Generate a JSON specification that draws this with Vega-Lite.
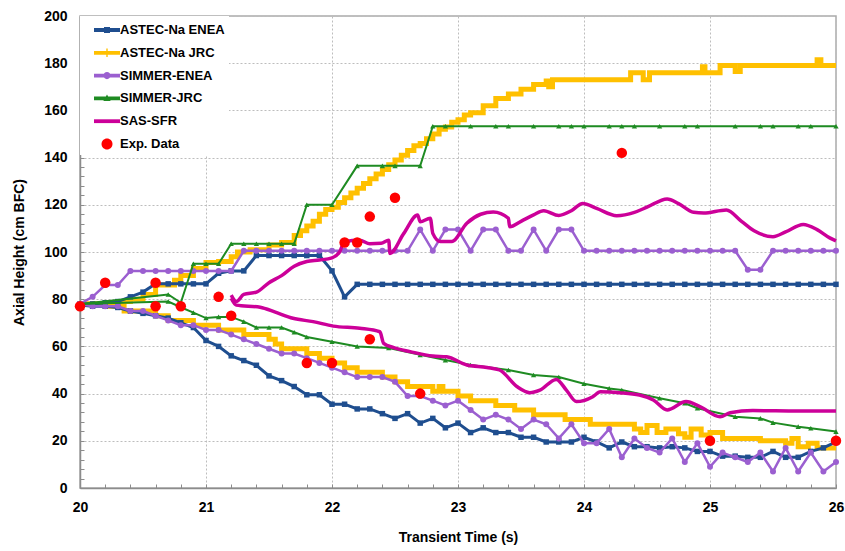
{
"$schema": "https://vega.github.io/schema/vega-lite/v6.json",
"width": 756, "height": 472,
"autosize": {"type": "none"},
"padding": {"left": 80, "top": 16, "right": 9, "bottom": 63},
"background": "white",
"config": {"view": {"stroke": "#ABABAB", "strokeWidth": 1.5}, "font": "Liberation Sans"},
"data": {"values": [
{"s":"ASTEC-Na ENEA","b":"u","t":20,"y":78},{"s":"ASTEC-Na ENEA","b":"u","t":20.1,"y":78},{"s":"ASTEC-Na ENEA","b":"u","t":20.2,"y":78.5},{"s":"ASTEC-Na ENEA","b":"u","t":20.3,"y":79},{"s":"ASTEC-Na ENEA","b":"u","t":20.4,"y":81},{"s":"ASTEC-Na ENEA","b":"u","t":20.5,"y":83},{"s":"ASTEC-Na ENEA","b":"u","t":20.6,"y":86.5},{"s":"ASTEC-Na ENEA","b":"u","t":20.7,"y":86.5},{"s":"ASTEC-Na ENEA","b":"u","t":20.8,"y":86.5},{"s":"ASTEC-Na ENEA","b":"u","t":20.9,"y":86.5},{"s":"ASTEC-Na ENEA","b":"u","t":21,"y":86.5},{"s":"ASTEC-Na ENEA","b":"u","t":21.1,"y":91},{"s":"ASTEC-Na ENEA","b":"u","t":21.2,"y":92},{"s":"ASTEC-Na ENEA","b":"u","t":21.3,"y":92},{"s":"ASTEC-Na ENEA","b":"u","t":21.4,"y":98.5},{"s":"ASTEC-Na ENEA","b":"u","t":21.5,"y":98.5},{"s":"ASTEC-Na ENEA","b":"u","t":21.6,"y":98.5},{"s":"ASTEC-Na ENEA","b":"u","t":21.7,"y":98.5},{"s":"ASTEC-Na ENEA","b":"u","t":21.8,"y":98.5},{"s":"ASTEC-Na ENEA","b":"u","t":21.9,"y":98.5},{"s":"ASTEC-Na ENEA","b":"u","t":22,"y":92},{"s":"ASTEC-Na ENEA","b":"u","t":22.1,"y":81},{"s":"ASTEC-Na ENEA","b":"u","t":22.2,"y":86.3},{"s":"ASTEC-Na ENEA","b":"u","t":22.3,"y":86.3},{"s":"ASTEC-Na ENEA","b":"u","t":22.4,"y":86.3},{"s":"ASTEC-Na ENEA","b":"u","t":22.5,"y":86.3},{"s":"ASTEC-Na ENEA","b":"u","t":22.6,"y":86.3},{"s":"ASTEC-Na ENEA","b":"u","t":22.7,"y":86.3},{"s":"ASTEC-Na ENEA","b":"u","t":22.8,"y":86.3},{"s":"ASTEC-Na ENEA","b":"u","t":22.9,"y":86.3},{"s":"ASTEC-Na ENEA","b":"u","t":23,"y":86.3},{"s":"ASTEC-Na ENEA","b":"u","t":23.1,"y":86.3},{"s":"ASTEC-Na ENEA","b":"u","t":23.2,"y":86.3},{"s":"ASTEC-Na ENEA","b":"u","t":23.3,"y":86.3},{"s":"ASTEC-Na ENEA","b":"u","t":23.4,"y":86.3},{"s":"ASTEC-Na ENEA","b":"u","t":23.5,"y":86.3},{"s":"ASTEC-Na ENEA","b":"u","t":23.6,"y":86.3},{"s":"ASTEC-Na ENEA","b":"u","t":23.7,"y":86.3},{"s":"ASTEC-Na ENEA","b":"u","t":23.8,"y":86.3},{"s":"ASTEC-Na ENEA","b":"u","t":23.9,"y":86.3},{"s":"ASTEC-Na ENEA","b":"u","t":24,"y":86.3},{"s":"ASTEC-Na ENEA","b":"u","t":24.1,"y":86.3},{"s":"ASTEC-Na ENEA","b":"u","t":24.2,"y":86.3},{"s":"ASTEC-Na ENEA","b":"u","t":24.3,"y":86.3},{"s":"ASTEC-Na ENEA","b":"u","t":24.4,"y":86.3},{"s":"ASTEC-Na ENEA","b":"u","t":24.5,"y":86.3},{"s":"ASTEC-Na ENEA","b":"u","t":24.6,"y":86.3},{"s":"ASTEC-Na ENEA","b":"u","t":24.7,"y":86.3},{"s":"ASTEC-Na ENEA","b":"u","t":24.8,"y":86.3},{"s":"ASTEC-Na ENEA","b":"u","t":24.9,"y":86.3},{"s":"ASTEC-Na ENEA","b":"u","t":25,"y":86.3},{"s":"ASTEC-Na ENEA","b":"u","t":25.1,"y":86.3},{"s":"ASTEC-Na ENEA","b":"u","t":25.2,"y":86.3},{"s":"ASTEC-Na ENEA","b":"u","t":25.3,"y":86.3},{"s":"ASTEC-Na ENEA","b":"u","t":25.4,"y":86.3},{"s":"ASTEC-Na ENEA","b":"u","t":25.5,"y":86.3},{"s":"ASTEC-Na ENEA","b":"u","t":25.6,"y":86.3},{"s":"ASTEC-Na ENEA","b":"u","t":25.7,"y":86.3},{"s":"ASTEC-Na ENEA","b":"u","t":25.8,"y":86.3},{"s":"ASTEC-Na ENEA","b":"u","t":25.9,"y":86.3},{"s":"ASTEC-Na ENEA","b":"u","t":26,"y":86.3},
{"s":"ASTEC-Na ENEA","b":"l","t":20,"y":77.5},{"s":"ASTEC-Na ENEA","b":"l","t":20.1,"y":77},{"s":"ASTEC-Na ENEA","b":"l","t":20.2,"y":77},{"s":"ASTEC-Na ENEA","b":"l","t":20.3,"y":76.5},{"s":"ASTEC-Na ENEA","b":"l","t":20.4,"y":75},{"s":"ASTEC-Na ENEA","b":"l","t":20.5,"y":74},{"s":"ASTEC-Na ENEA","b":"l","t":20.6,"y":73},{"s":"ASTEC-Na ENEA","b":"l","t":20.7,"y":72},{"s":"ASTEC-Na ENEA","b":"l","t":20.8,"y":70},{"s":"ASTEC-Na ENEA","b":"l","t":20.9,"y":68},{"s":"ASTEC-Na ENEA","b":"l","t":21,"y":62.5},{"s":"ASTEC-Na ENEA","b":"l","t":21.1,"y":60},{"s":"ASTEC-Na ENEA","b":"l","t":21.2,"y":56},{"s":"ASTEC-Na ENEA","b":"l","t":21.3,"y":54},{"s":"ASTEC-Na ENEA","b":"l","t":21.4,"y":52},{"s":"ASTEC-Na ENEA","b":"l","t":21.5,"y":47.5},{"s":"ASTEC-Na ENEA","b":"l","t":21.6,"y":45.5},{"s":"ASTEC-Na ENEA","b":"l","t":21.7,"y":43},{"s":"ASTEC-Na ENEA","b":"l","t":21.8,"y":39.5},{"s":"ASTEC-Na ENEA","b":"l","t":21.9,"y":39.5},{"s":"ASTEC-Na ENEA","b":"l","t":22,"y":35.5},{"s":"ASTEC-Na ENEA","b":"l","t":22.1,"y":35.5},{"s":"ASTEC-Na ENEA","b":"l","t":22.2,"y":33.5},{"s":"ASTEC-Na ENEA","b":"l","t":22.3,"y":33.5},{"s":"ASTEC-Na ENEA","b":"l","t":22.4,"y":31.5},{"s":"ASTEC-Na ENEA","b":"l","t":22.5,"y":29.5},{"s":"ASTEC-Na ENEA","b":"l","t":22.6,"y":31.5},{"s":"ASTEC-Na ENEA","b":"l","t":22.7,"y":27.5},{"s":"ASTEC-Na ENEA","b":"l","t":22.8,"y":29.5},{"s":"ASTEC-Na ENEA","b":"l","t":22.9,"y":25.5},{"s":"ASTEC-Na ENEA","b":"l","t":23,"y":27.5},{"s":"ASTEC-Na ENEA","b":"l","t":23.1,"y":23.5},{"s":"ASTEC-Na ENEA","b":"l","t":23.2,"y":25.5},{"s":"ASTEC-Na ENEA","b":"l","t":23.3,"y":23.5},{"s":"ASTEC-Na ENEA","b":"l","t":23.4,"y":23.5},{"s":"ASTEC-Na ENEA","b":"l","t":23.5,"y":21.5},{"s":"ASTEC-Na ENEA","b":"l","t":23.6,"y":21.5},{"s":"ASTEC-Na ENEA","b":"l","t":23.7,"y":19.5},{"s":"ASTEC-Na ENEA","b":"l","t":23.8,"y":19.5},{"s":"ASTEC-Na ENEA","b":"l","t":23.9,"y":19.5},{"s":"ASTEC-Na ENEA","b":"l","t":24,"y":21.5},{"s":"ASTEC-Na ENEA","b":"l","t":24.1,"y":19.5},{"s":"ASTEC-Na ENEA","b":"l","t":24.2,"y":17},{"s":"ASTEC-Na ENEA","b":"l","t":24.3,"y":19.5},{"s":"ASTEC-Na ENEA","b":"l","t":24.4,"y":17.5},{"s":"ASTEC-Na ENEA","b":"l","t":24.5,"y":17.5},{"s":"ASTEC-Na ENEA","b":"l","t":24.6,"y":17},{"s":"ASTEC-Na ENEA","b":"l","t":24.7,"y":17.5},{"s":"ASTEC-Na ENEA","b":"l","t":24.8,"y":17},{"s":"ASTEC-Na ENEA","b":"l","t":24.9,"y":15.5},{"s":"ASTEC-Na ENEA","b":"l","t":25,"y":15.5},{"s":"ASTEC-Na ENEA","b":"l","t":25.1,"y":13.5},{"s":"ASTEC-Na ENEA","b":"l","t":25.2,"y":13.5},{"s":"ASTEC-Na ENEA","b":"l","t":25.3,"y":13},{"s":"ASTEC-Na ENEA","b":"l","t":25.4,"y":13},{"s":"ASTEC-Na ENEA","b":"l","t":25.5,"y":15.5},{"s":"ASTEC-Na ENEA","b":"l","t":25.6,"y":13},{"s":"ASTEC-Na ENEA","b":"l","t":25.7,"y":13},{"s":"ASTEC-Na ENEA","b":"l","t":25.8,"y":15.5},{"s":"ASTEC-Na ENEA","b":"l","t":25.9,"y":17},{"s":"ASTEC-Na ENEA","b":"l","t":26,"y":19.5},
{"s":"ASTEC-Na JRC","b":"u","t":20,"y":78},{"s":"ASTEC-Na JRC","b":"u","t":20.3,"y":79},{"s":"ASTEC-Na JRC","b":"u","t":20.4,"y":80},{"s":"ASTEC-Na JRC","b":"u","t":20.5,"y":82},{"s":"ASTEC-Na JRC","b":"u","t":20.6,"y":86},{"s":"ASTEC-Na JRC","b":"u","t":20.75,"y":88},{"s":"ASTEC-Na JRC","b":"u","t":20.8,"y":90},{"s":"ASTEC-Na JRC","b":"u","t":20.9,"y":93},{"s":"ASTEC-Na JRC","b":"u","t":21,"y":95.5},{"s":"ASTEC-Na JRC","b":"u","t":21.1,"y":96},{"s":"ASTEC-Na JRC","b":"u","t":21.2,"y":98},{"s":"ASTEC-Na JRC","b":"u","t":21.25,"y":100},{"s":"ASTEC-Na JRC","b":"u","t":21.35,"y":101},{"s":"ASTEC-Na JRC","b":"u","t":21.5,"y":103},{"s":"ASTEC-Na JRC","b":"u","t":21.6,"y":104},{"s":"ASTEC-Na JRC","b":"u","t":21.7,"y":107},{"s":"ASTEC-Na JRC","b":"u","t":21.75,"y":109},{"s":"ASTEC-Na JRC","b":"u","t":21.8,"y":111},{"s":"ASTEC-Na JRC","b":"u","t":21.85,"y":113},{"s":"ASTEC-Na JRC","b":"u","t":21.9,"y":116},{"s":"ASTEC-Na JRC","b":"u","t":21.95,"y":118},{"s":"ASTEC-Na JRC","b":"u","t":22,"y":119},{"s":"ASTEC-Na JRC","b":"u","t":22.05,"y":121},{"s":"ASTEC-Na JRC","b":"u","t":22.1,"y":123},{"s":"ASTEC-Na JRC","b":"u","t":22.15,"y":125},{"s":"ASTEC-Na JRC","b":"u","t":22.2,"y":127},{"s":"ASTEC-Na JRC","b":"u","t":22.25,"y":129},{"s":"ASTEC-Na JRC","b":"u","t":22.3,"y":131},{"s":"ASTEC-Na JRC","b":"u","t":22.35,"y":133},{"s":"ASTEC-Na JRC","b":"u","t":22.4,"y":135},{"s":"ASTEC-Na JRC","b":"u","t":22.45,"y":137},{"s":"ASTEC-Na JRC","b":"u","t":22.5,"y":139},{"s":"ASTEC-Na JRC","b":"u","t":22.55,"y":141},{"s":"ASTEC-Na JRC","b":"u","t":22.6,"y":143},{"s":"ASTEC-Na JRC","b":"u","t":22.65,"y":145},{"s":"ASTEC-Na JRC","b":"u","t":22.7,"y":146},{"s":"ASTEC-Na JRC","b":"u","t":22.75,"y":148},{"s":"ASTEC-Na JRC","b":"u","t":22.8,"y":150},{"s":"ASTEC-Na JRC","b":"u","t":22.85,"y":152},{"s":"ASTEC-Na JRC","b":"u","t":22.9,"y":153},{"s":"ASTEC-Na JRC","b":"u","t":22.95,"y":155},{"s":"ASTEC-Na JRC","b":"u","t":23,"y":156},{"s":"ASTEC-Na JRC","b":"u","t":23.05,"y":158},{"s":"ASTEC-Na JRC","b":"u","t":23.1,"y":159},{"s":"ASTEC-Na JRC","b":"u","t":23.2,"y":162},{"s":"ASTEC-Na JRC","b":"u","t":23.3,"y":165},{"s":"ASTEC-Na JRC","b":"u","t":23.4,"y":167},{"s":"ASTEC-Na JRC","b":"u","t":23.5,"y":169},{"s":"ASTEC-Na JRC","b":"u","t":23.6,"y":171},{"s":"ASTEC-Na JRC","b":"u","t":23.7,"y":172.5},{"s":"ASTEC-Na JRC","b":"u","t":23.72,"y":170},{"s":"ASTEC-Na JRC","b":"u","t":23.75,"y":173},{"s":"ASTEC-Na JRC","b":"u","t":24.37,"y":176},{"s":"ASTEC-Na JRC","b":"u","t":24.47,"y":173},{"s":"ASTEC-Na JRC","b":"u","t":24.52,"y":176},{"s":"ASTEC-Na JRC","b":"u","t":24.94,"y":178.5},{"s":"ASTEC-Na JRC","b":"u","t":24.96,"y":176},{"s":"ASTEC-Na JRC","b":"u","t":25.08,"y":179},{"s":"ASTEC-Na JRC","b":"u","t":25.2,"y":176.5},{"s":"ASTEC-Na JRC","b":"u","t":25.24,"y":179},{"s":"ASTEC-Na JRC","b":"u","t":25.85,"y":181.5},{"s":"ASTEC-Na JRC","b":"u","t":25.88,"y":179},{"s":"ASTEC-Na JRC","b":"u","t":26,"y":179},
{"s":"ASTEC-Na JRC","b":"l","t":20,"y":78},{"s":"ASTEC-Na JRC","b":"l","t":20.2,"y":77},{"s":"ASTEC-Na JRC","b":"l","t":20.35,"y":75},{"s":"ASTEC-Na JRC","b":"l","t":20.6,"y":73},{"s":"ASTEC-Na JRC","b":"l","t":20.7,"y":71},{"s":"ASTEC-Na JRC","b":"l","t":20.9,"y":69},{"s":"ASTEC-Na JRC","b":"l","t":21.1,"y":67},{"s":"ASTEC-Na JRC","b":"l","t":21.3,"y":65},{"s":"ASTEC-Na JRC","b":"l","t":21.5,"y":63},{"s":"ASTEC-Na JRC","b":"l","t":21.55,"y":61},{"s":"ASTEC-Na JRC","b":"l","t":21.6,"y":59},{"s":"ASTEC-Na JRC","b":"l","t":21.8,"y":57},{"s":"ASTEC-Na JRC","b":"l","t":21.9,"y":55},{"s":"ASTEC-Na JRC","b":"l","t":22,"y":53},{"s":"ASTEC-Na JRC","b":"l","t":22.1,"y":51},{"s":"ASTEC-Na JRC","b":"l","t":22.2,"y":49},{"s":"ASTEC-Na JRC","b":"l","t":22.4,"y":47},{"s":"ASTEC-Na JRC","b":"l","t":22.5,"y":45},{"s":"ASTEC-Na JRC","b":"l","t":22.6,"y":43},{"s":"ASTEC-Na JRC","b":"l","t":22.8,"y":41},{"s":"ASTEC-Na JRC","b":"l","t":22.85,"y":43},{"s":"ASTEC-Na JRC","b":"l","t":22.88,"y":41},{"s":"ASTEC-Na JRC","b":"l","t":23,"y":39},{"s":"ASTEC-Na JRC","b":"l","t":23.1,"y":37},{"s":"ASTEC-Na JRC","b":"l","t":23.3,"y":35},{"s":"ASTEC-Na JRC","b":"l","t":23.45,"y":33},{"s":"ASTEC-Na JRC","b":"l","t":23.6,"y":31},{"s":"ASTEC-Na JRC","b":"l","t":23.85,"y":29},{"s":"ASTEC-Na JRC","b":"l","t":24.05,"y":27},{"s":"ASTEC-Na JRC","b":"l","t":24.4,"y":25},{"s":"ASTEC-Na JRC","b":"l","t":24.45,"y":23.5},{"s":"ASTEC-Na JRC","b":"l","t":24.5,"y":26.5},{"s":"ASTEC-Na JRC","b":"l","t":24.58,"y":23.5},{"s":"ASTEC-Na JRC","b":"l","t":24.65,"y":25},{"s":"ASTEC-Na JRC","b":"l","t":24.75,"y":23},{"s":"ASTEC-Na JRC","b":"l","t":24.8,"y":21.5},{"s":"ASTEC-Na JRC","b":"l","t":24.85,"y":25},{"s":"ASTEC-Na JRC","b":"l","t":24.93,"y":22.5},{"s":"ASTEC-Na JRC","b":"l","t":25,"y":23.5},{"s":"ASTEC-Na JRC","b":"l","t":25.1,"y":21},{"s":"ASTEC-Na JRC","b":"l","t":25.4,"y":20},{"s":"ASTEC-Na JRC","b":"l","t":25.6,"y":19},{"s":"ASTEC-Na JRC","b":"l","t":25.65,"y":21},{"s":"ASTEC-Na JRC","b":"l","t":25.7,"y":17.5},{"s":"ASTEC-Na JRC","b":"l","t":25.78,"y":19},{"s":"ASTEC-Na JRC","b":"l","t":25.85,"y":17},{"s":"ASTEC-Na JRC","b":"l","t":26,"y":17},
{"s":"SIMMER-ENEA","b":"u","t":20,"y":78},{"s":"SIMMER-ENEA","b":"u","t":20.1,"y":81},{"s":"SIMMER-ENEA","b":"u","t":20.2,"y":86},{"s":"SIMMER-ENEA","b":"u","t":20.3,"y":86},{"s":"SIMMER-ENEA","b":"u","t":20.4,"y":92},{"s":"SIMMER-ENEA","b":"u","t":20.5,"y":92},{"s":"SIMMER-ENEA","b":"u","t":20.6,"y":92},{"s":"SIMMER-ENEA","b":"u","t":20.7,"y":92},{"s":"SIMMER-ENEA","b":"u","t":20.8,"y":92},{"s":"SIMMER-ENEA","b":"u","t":20.9,"y":92},{"s":"SIMMER-ENEA","b":"u","t":21,"y":92},{"s":"SIMMER-ENEA","b":"u","t":21.1,"y":92},{"s":"SIMMER-ENEA","b":"u","t":21.2,"y":92},{"s":"SIMMER-ENEA","b":"u","t":21.3,"y":100.5},{"s":"SIMMER-ENEA","b":"u","t":21.4,"y":100.5},{"s":"SIMMER-ENEA","b":"u","t":21.5,"y":100.5},{"s":"SIMMER-ENEA","b":"u","t":21.6,"y":100.5},{"s":"SIMMER-ENEA","b":"u","t":21.7,"y":100.5},{"s":"SIMMER-ENEA","b":"u","t":21.8,"y":100.5},{"s":"SIMMER-ENEA","b":"u","t":21.9,"y":100.5},{"s":"SIMMER-ENEA","b":"u","t":22,"y":100.5},{"s":"SIMMER-ENEA","b":"u","t":22.1,"y":100.5},{"s":"SIMMER-ENEA","b":"u","t":22.2,"y":100.5},{"s":"SIMMER-ENEA","b":"u","t":22.3,"y":100.5},{"s":"SIMMER-ENEA","b":"u","t":22.4,"y":100.5},{"s":"SIMMER-ENEA","b":"u","t":22.5,"y":100.5},{"s":"SIMMER-ENEA","b":"u","t":22.6,"y":100.5},{"s":"SIMMER-ENEA","b":"u","t":22.7,"y":109.5},{"s":"SIMMER-ENEA","b":"u","t":22.8,"y":100.5},{"s":"SIMMER-ENEA","b":"u","t":22.9,"y":109.5},{"s":"SIMMER-ENEA","b":"u","t":23,"y":109.5},{"s":"SIMMER-ENEA","b":"u","t":23.1,"y":100.5},{"s":"SIMMER-ENEA","b":"u","t":23.2,"y":109.5},{"s":"SIMMER-ENEA","b":"u","t":23.3,"y":109.5},{"s":"SIMMER-ENEA","b":"u","t":23.4,"y":100.5},{"s":"SIMMER-ENEA","b":"u","t":23.5,"y":100.5},{"s":"SIMMER-ENEA","b":"u","t":23.6,"y":109.5},{"s":"SIMMER-ENEA","b":"u","t":23.7,"y":100.5},{"s":"SIMMER-ENEA","b":"u","t":23.8,"y":109.5},{"s":"SIMMER-ENEA","b":"u","t":23.9,"y":109.5},{"s":"SIMMER-ENEA","b":"u","t":24,"y":100.5},{"s":"SIMMER-ENEA","b":"u","t":24.1,"y":100.5},{"s":"SIMMER-ENEA","b":"u","t":24.2,"y":100.5},{"s":"SIMMER-ENEA","b":"u","t":24.3,"y":100.5},{"s":"SIMMER-ENEA","b":"u","t":24.4,"y":100.5},{"s":"SIMMER-ENEA","b":"u","t":24.5,"y":100.5},{"s":"SIMMER-ENEA","b":"u","t":24.6,"y":100.5},{"s":"SIMMER-ENEA","b":"u","t":24.7,"y":100.5},{"s":"SIMMER-ENEA","b":"u","t":24.8,"y":100.5},{"s":"SIMMER-ENEA","b":"u","t":24.9,"y":100.5},{"s":"SIMMER-ENEA","b":"u","t":25,"y":100.5},{"s":"SIMMER-ENEA","b":"u","t":25.1,"y":100.5},{"s":"SIMMER-ENEA","b":"u","t":25.2,"y":100.5},{"s":"SIMMER-ENEA","b":"u","t":25.3,"y":92.5},{"s":"SIMMER-ENEA","b":"u","t":25.4,"y":92.5},{"s":"SIMMER-ENEA","b":"u","t":25.5,"y":100.5},{"s":"SIMMER-ENEA","b":"u","t":25.6,"y":100.5},{"s":"SIMMER-ENEA","b":"u","t":25.7,"y":100.5},{"s":"SIMMER-ENEA","b":"u","t":25.8,"y":100.5},{"s":"SIMMER-ENEA","b":"u","t":25.9,"y":100.5},{"s":"SIMMER-ENEA","b":"u","t":26,"y":100.5},
{"s":"SIMMER-ENEA","b":"l","t":20,"y":78},{"s":"SIMMER-ENEA","b":"l","t":20.1,"y":77},{"s":"SIMMER-ENEA","b":"l","t":20.2,"y":77},{"s":"SIMMER-ENEA","b":"l","t":20.3,"y":77},{"s":"SIMMER-ENEA","b":"l","t":20.4,"y":75},{"s":"SIMMER-ENEA","b":"l","t":20.5,"y":75},{"s":"SIMMER-ENEA","b":"l","t":20.6,"y":73},{"s":"SIMMER-ENEA","b":"l","t":20.7,"y":71},{"s":"SIMMER-ENEA","b":"l","t":20.8,"y":69},{"s":"SIMMER-ENEA","b":"l","t":20.9,"y":69},{"s":"SIMMER-ENEA","b":"l","t":21,"y":67},{"s":"SIMMER-ENEA","b":"l","t":21.1,"y":67},{"s":"SIMMER-ENEA","b":"l","t":21.2,"y":65},{"s":"SIMMER-ENEA","b":"l","t":21.3,"y":63},{"s":"SIMMER-ENEA","b":"l","t":21.4,"y":61},{"s":"SIMMER-ENEA","b":"l","t":21.5,"y":59},{"s":"SIMMER-ENEA","b":"l","t":21.6,"y":57},{"s":"SIMMER-ENEA","b":"l","t":21.7,"y":57},{"s":"SIMMER-ENEA","b":"l","t":21.8,"y":55},{"s":"SIMMER-ENEA","b":"l","t":21.9,"y":53},{"s":"SIMMER-ENEA","b":"l","t":22,"y":51},{"s":"SIMMER-ENEA","b":"l","t":22.1,"y":49},{"s":"SIMMER-ENEA","b":"l","t":22.2,"y":47},{"s":"SIMMER-ENEA","b":"l","t":22.3,"y":47},{"s":"SIMMER-ENEA","b":"l","t":22.4,"y":47},{"s":"SIMMER-ENEA","b":"l","t":22.5,"y":45},{"s":"SIMMER-ENEA","b":"l","t":22.6,"y":39},{"s":"SIMMER-ENEA","b":"l","t":22.7,"y":39},{"s":"SIMMER-ENEA","b":"l","t":22.8,"y":37},{"s":"SIMMER-ENEA","b":"l","t":22.9,"y":35},{"s":"SIMMER-ENEA","b":"l","t":23,"y":37},{"s":"SIMMER-ENEA","b":"l","t":23.1,"y":33},{"s":"SIMMER-ENEA","b":"l","t":23.2,"y":29},{"s":"SIMMER-ENEA","b":"l","t":23.3,"y":31},{"s":"SIMMER-ENEA","b":"l","t":23.4,"y":29},{"s":"SIMMER-ENEA","b":"l","t":23.5,"y":25},{"s":"SIMMER-ENEA","b":"l","t":23.6,"y":29},{"s":"SIMMER-ENEA","b":"l","t":23.7,"y":27},{"s":"SIMMER-ENEA","b":"l","t":23.8,"y":21},{"s":"SIMMER-ENEA","b":"l","t":23.9,"y":27},{"s":"SIMMER-ENEA","b":"l","t":24,"y":19},{"s":"SIMMER-ENEA","b":"l","t":24.1,"y":19},{"s":"SIMMER-ENEA","b":"l","t":24.2,"y":25},{"s":"SIMMER-ENEA","b":"l","t":24.3,"y":13},{"s":"SIMMER-ENEA","b":"l","t":24.4,"y":21},{"s":"SIMMER-ENEA","b":"l","t":24.5,"y":17},{"s":"SIMMER-ENEA","b":"l","t":24.6,"y":15},{"s":"SIMMER-ENEA","b":"l","t":24.7,"y":21},{"s":"SIMMER-ENEA","b":"l","t":24.8,"y":11},{"s":"SIMMER-ENEA","b":"l","t":24.9,"y":19},{"s":"SIMMER-ENEA","b":"l","t":25,"y":9},{"s":"SIMMER-ENEA","b":"l","t":25.1,"y":15},{"s":"SIMMER-ENEA","b":"l","t":25.2,"y":13},{"s":"SIMMER-ENEA","b":"l","t":25.3,"y":11},{"s":"SIMMER-ENEA","b":"l","t":25.4,"y":15},{"s":"SIMMER-ENEA","b":"l","t":25.5,"y":7},{"s":"SIMMER-ENEA","b":"l","t":25.6,"y":17},{"s":"SIMMER-ENEA","b":"l","t":25.7,"y":7},{"s":"SIMMER-ENEA","b":"l","t":25.8,"y":15},{"s":"SIMMER-ENEA","b":"l","t":25.9,"y":7},{"s":"SIMMER-ENEA","b":"l","t":26,"y":11},
{"s":"SIMMER-JRC","b":"u","t":20,"y":78},{"s":"SIMMER-JRC","b":"u","t":20.7,"y":82},{"s":"SIMMER-JRC","b":"u","t":20.8,"y":78.5},{"s":"SIMMER-JRC","b":"u","t":20.9,"y":95},{"s":"SIMMER-JRC","b":"u","t":21,"y":95},{"s":"SIMMER-JRC","b":"u","t":21.1,"y":95},{"s":"SIMMER-JRC","b":"u","t":21.2,"y":103.5},{"s":"SIMMER-JRC","b":"u","t":21.3,"y":103.5},{"s":"SIMMER-JRC","b":"u","t":21.4,"y":103.5},{"s":"SIMMER-JRC","b":"u","t":21.5,"y":103.5},{"s":"SIMMER-JRC","b":"u","t":21.6,"y":103.5},{"s":"SIMMER-JRC","b":"u","t":21.7,"y":103.5},{"s":"SIMMER-JRC","b":"u","t":21.8,"y":120},{"s":"SIMMER-JRC","b":"u","t":22,"y":120},{"s":"SIMMER-JRC","b":"u","t":22.2,"y":136.5},{"s":"SIMMER-JRC","b":"u","t":22.4,"y":136.5},{"s":"SIMMER-JRC","b":"u","t":22.5,"y":136.5},{"s":"SIMMER-JRC","b":"u","t":22.7,"y":136.5},{"s":"SIMMER-JRC","b":"u","t":22.8,"y":153.3},{"s":"SIMMER-JRC","b":"u","t":22.9,"y":153.3},{"s":"SIMMER-JRC","b":"u","t":23.1,"y":153.3},{"s":"SIMMER-JRC","b":"u","t":23.3,"y":153.3},{"s":"SIMMER-JRC","b":"u","t":23.4,"y":153.3},{"s":"SIMMER-JRC","b":"u","t":23.6,"y":153.3},{"s":"SIMMER-JRC","b":"u","t":23.8,"y":153.3},{"s":"SIMMER-JRC","b":"u","t":23.9,"y":153.3},{"s":"SIMMER-JRC","b":"u","t":24,"y":153.3},{"s":"SIMMER-JRC","b":"u","t":24.2,"y":153.3},{"s":"SIMMER-JRC","b":"u","t":24.3,"y":153.3},{"s":"SIMMER-JRC","b":"u","t":24.4,"y":153.3},{"s":"SIMMER-JRC","b":"u","t":24.6,"y":153.3},{"s":"SIMMER-JRC","b":"u","t":24.8,"y":153.3},{"s":"SIMMER-JRC","b":"u","t":24.9,"y":153.3},{"s":"SIMMER-JRC","b":"u","t":25.2,"y":153.3},{"s":"SIMMER-JRC","b":"u","t":25.4,"y":153.3},{"s":"SIMMER-JRC","b":"u","t":25.5,"y":153.3},{"s":"SIMMER-JRC","b":"u","t":25.7,"y":153.3},{"s":"SIMMER-JRC","b":"u","t":25.8,"y":153.3},{"s":"SIMMER-JRC","b":"u","t":26,"y":153.3},
{"s":"SIMMER-JRC","b":"l","t":20,"y":78},{"s":"SIMMER-JRC","b":"l","t":20.7,"y":79},{"s":"SIMMER-JRC","b":"l","t":20.8,"y":76.6},{"s":"SIMMER-JRC","b":"l","t":20.9,"y":74.3},{"s":"SIMMER-JRC","b":"l","t":21,"y":72},{"s":"SIMMER-JRC","b":"l","t":21.1,"y":72.5},{"s":"SIMMER-JRC","b":"l","t":21.2,"y":72.5},{"s":"SIMMER-JRC","b":"l","t":21.3,"y":70.5},{"s":"SIMMER-JRC","b":"l","t":21.4,"y":68},{"s":"SIMMER-JRC","b":"l","t":21.5,"y":68},{"s":"SIMMER-JRC","b":"l","t":21.6,"y":68},{"s":"SIMMER-JRC","b":"l","t":21.7,"y":66},{"s":"SIMMER-JRC","b":"l","t":21.8,"y":64},{"s":"SIMMER-JRC","b":"l","t":22,"y":62},{"s":"SIMMER-JRC","b":"l","t":22.2,"y":60},{"s":"SIMMER-JRC","b":"l","t":22.45,"y":59.3},{"s":"SIMMER-JRC","b":"l","t":22.7,"y":56.4},{"s":"SIMMER-JRC","b":"l","t":22.9,"y":54.2},{"s":"SIMMER-JRC","b":"l","t":23.1,"y":52.1},{"s":"SIMMER-JRC","b":"l","t":23.4,"y":50},{"s":"SIMMER-JRC","b":"l","t":23.6,"y":47.9},{"s":"SIMMER-JRC","b":"l","t":23.8,"y":47},{"s":"SIMMER-JRC","b":"l","t":24,"y":44.2},{"s":"SIMMER-JRC","b":"l","t":24.2,"y":42.2},{"s":"SIMMER-JRC","b":"l","t":24.3,"y":41.5},{"s":"SIMMER-JRC","b":"l","t":24.6,"y":38},{"s":"SIMMER-JRC","b":"l","t":24.8,"y":35.9},{"s":"SIMMER-JRC","b":"l","t":24.9,"y":33.8},{"s":"SIMMER-JRC","b":"l","t":25.2,"y":30.2},{"s":"SIMMER-JRC","b":"l","t":25.4,"y":29.5},{"s":"SIMMER-JRC","b":"l","t":25.5,"y":27.7},{"s":"SIMMER-JRC","b":"l","t":25.7,"y":26},{"s":"SIMMER-JRC","b":"l","t":25.8,"y":25.3},{"s":"SIMMER-JRC","b":"l","t":26,"y":23.9},
{"s":"SAS-SFR","b":"u","t":21.2,"y":81.7},{"s":"SAS-SFR","b":"u","t":21.24,"y":79},{"s":"SAS-SFR","b":"u","t":21.3,"y":82},{"s":"SAS-SFR","b":"u","t":21.4,"y":83},{"s":"SAS-SFR","b":"u","t":21.5,"y":87},{"s":"SAS-SFR","b":"u","t":21.6,"y":90},{"s":"SAS-SFR","b":"u","t":21.7,"y":94},{"s":"SAS-SFR","b":"u","t":21.8,"y":96},{"s":"SAS-SFR","b":"u","t":21.9,"y":96.6},{"s":"SAS-SFR","b":"u","t":22,"y":97.5},{"s":"SAS-SFR","b":"u","t":22.06,"y":100},{"s":"SAS-SFR","b":"u","t":22.1,"y":104.4},{"s":"SAS-SFR","b":"u","t":22.22,"y":105},{"s":"SAS-SFR","b":"u","t":22.3,"y":103.5},{"s":"SAS-SFR","b":"u","t":22.39,"y":103.7},{"s":"SAS-SFR","b":"u","t":22.45,"y":105},{"s":"SAS-SFR","b":"u","t":22.46,"y":99.4},{"s":"SAS-SFR","b":"u","t":22.57,"y":107.9},{"s":"SAS-SFR","b":"u","t":22.68,"y":115.7},{"s":"SAS-SFR","b":"u","t":22.7,"y":112.8},{"s":"SAS-SFR","b":"u","t":22.78,"y":114.3},{"s":"SAS-SFR","b":"u","t":22.8,"y":107.9},{"s":"SAS-SFR","b":"u","t":22.86,"y":104.4},{"s":"SAS-SFR","b":"u","t":22.95,"y":104.4},{"s":"SAS-SFR","b":"u","t":23.07,"y":112.2},{"s":"SAS-SFR","b":"u","t":23.18,"y":116},{"s":"SAS-SFR","b":"u","t":23.28,"y":117},{"s":"SAS-SFR","b":"u","t":23.4,"y":114.3},{"s":"SAS-SFR","b":"u","t":23.41,"y":110.7},{"s":"SAS-SFR","b":"u","t":23.5,"y":113},{"s":"SAS-SFR","b":"u","t":23.6,"y":115.7},{"s":"SAS-SFR","b":"u","t":23.68,"y":117.5},{"s":"SAS-SFR","b":"u","t":23.8,"y":115.5},{"s":"SAS-SFR","b":"u","t":23.9,"y":117.5},{"s":"SAS-SFR","b":"u","t":23.99,"y":120.6},{"s":"SAS-SFR","b":"u","t":24.1,"y":118.5},{"s":"SAS-SFR","b":"u","t":24.26,"y":115.4},{"s":"SAS-SFR","b":"u","t":24.4,"y":116.8},{"s":"SAS-SFR","b":"u","t":24.5,"y":119},{"s":"SAS-SFR","b":"u","t":24.66,"y":122.5},{"s":"SAS-SFR","b":"u","t":24.75,"y":120.5},{"s":"SAS-SFR","b":"u","t":24.87,"y":116.8},{"s":"SAS-SFR","b":"u","t":24.95,"y":116.5},{"s":"SAS-SFR","b":"u","t":25.13,"y":117.8},{"s":"SAS-SFR","b":"u","t":25.25,"y":113},{"s":"SAS-SFR","b":"u","t":25.35,"y":109},{"s":"SAS-SFR","b":"u","t":25.5,"y":106.5},{"s":"SAS-SFR","b":"u","t":25.6,"y":108.5},{"s":"SAS-SFR","b":"u","t":25.74,"y":111.7},{"s":"SAS-SFR","b":"u","t":25.85,"y":109.5},{"s":"SAS-SFR","b":"u","t":25.95,"y":106},{"s":"SAS-SFR","b":"u","t":26,"y":104.7},
{"s":"SAS-SFR","b":"l","t":21.2,"y":80.4},{"s":"SAS-SFR","b":"l","t":21.24,"y":77.5},{"s":"SAS-SFR","b":"l","t":21.43,"y":76.6},{"s":"SAS-SFR","b":"l","t":21.55,"y":74.5},{"s":"SAS-SFR","b":"l","t":21.69,"y":71.9},{"s":"SAS-SFR","b":"l","t":21.85,"y":70.5},{"s":"SAS-SFR","b":"l","t":22.01,"y":68.6},{"s":"SAS-SFR","b":"l","t":22.22,"y":67.7},{"s":"SAS-SFR","b":"l","t":22.38,"y":66.2},{"s":"SAS-SFR","b":"l","t":22.41,"y":61.3},{"s":"SAS-SFR","b":"l","t":22.49,"y":59.5},{"s":"SAS-SFR","b":"l","t":22.62,"y":57.8},{"s":"SAS-SFR","b":"l","t":22.8,"y":55.9},{"s":"SAS-SFR","b":"l","t":22.91,"y":55.6},{"s":"SAS-SFR","b":"l","t":23.07,"y":52.1},{"s":"SAS-SFR","b":"l","t":23.23,"y":51.1},{"s":"SAS-SFR","b":"l","t":23.33,"y":50},{"s":"SAS-SFR","b":"l","t":23.47,"y":42.9},{"s":"SAS-SFR","b":"l","t":23.57,"y":40.4},{"s":"SAS-SFR","b":"l","t":23.65,"y":41.5},{"s":"SAS-SFR","b":"l","t":23.78,"y":46},{"s":"SAS-SFR","b":"l","t":23.86,"y":41.5},{"s":"SAS-SFR","b":"l","t":23.94,"y":36.6},{"s":"SAS-SFR","b":"l","t":24.07,"y":38.7},{"s":"SAS-SFR","b":"l","t":24.13,"y":40.8},{"s":"SAS-SFR","b":"l","t":24.28,"y":40.4},{"s":"SAS-SFR","b":"l","t":24.44,"y":39.4},{"s":"SAS-SFR","b":"l","t":24.55,"y":37.3},{"s":"SAS-SFR","b":"l","t":24.66,"y":33.1},{"s":"SAS-SFR","b":"l","t":24.81,"y":36.6},{"s":"SAS-SFR","b":"l","t":24.92,"y":34.5},{"s":"SAS-SFR","b":"l","t":25.08,"y":30.2},{"s":"SAS-SFR","b":"l","t":25.16,"y":31.9},{"s":"SAS-SFR","b":"l","t":25.34,"y":32.8},{"s":"SAS-SFR","b":"l","t":25.7,"y":32.6},{"s":"SAS-SFR","b":"l","t":26,"y":32.6},
{"s":"Exp. Data","b":"x","t":20,"y":77},{"s":"Exp. Data","b":"x","t":20.2,"y":87},{"s":"Exp. Data","b":"x","t":20.6,"y":87},{"s":"Exp. Data","b":"x","t":20.6,"y":77},{"s":"Exp. Data","b":"x","t":20.8,"y":77},{"s":"Exp. Data","b":"x","t":21.1,"y":81},{"s":"Exp. Data","b":"x","t":21.2,"y":73},{"s":"Exp. Data","b":"x","t":21.8,"y":53},{"s":"Exp. Data","b":"x","t":22,"y":53},{"s":"Exp. Data","b":"x","t":22.1,"y":104},{"s":"Exp. Data","b":"x","t":22.2,"y":104},{"s":"Exp. Data","b":"x","t":22.3,"y":115},{"s":"Exp. Data","b":"x","t":22.3,"y":63},{"s":"Exp. Data","b":"x","t":22.5,"y":123},{"s":"Exp. Data","b":"x","t":22.7,"y":40},{"s":"Exp. Data","b":"x","t":24.3,"y":142},{"s":"Exp. Data","b":"x","t":25,"y":20},{"s":"Exp. Data","b":"x","t":26,"y":20}
]},
"encoding": {
 "x": {"field": "t", "type": "quantitative", "scale": {"domain": [20, 26], "nice": false, "zero": false},
  "axis": {"title": "Transient Time (s)",
   "values": [20,20.2,20.4,20.6,20.8,21,21.2,21.4,21.6,21.8,22,22.2,22.4,22.6,22.8,23,23.2,23.4,23.6,23.8,24,24.2,24.4,24.6,24.8,25,25.2,25.4,25.6,25.8,26],
   "labelExpr": "abs(datum.value - round(datum.value)) < 0.01 ? format(datum.value, 'd') : ''",
   "gridOpacity": {"condition": {"test": "abs(datum.value - round(datum.value)) < 0.01", "value": 1}, "value": 0},
   "gridColor": "#BDBDBD", "gridDash": [2, 2], "gridWidth": 1,
   "tickSize": -4, "tickColor": "#8C8C8C", "domainColor": "#8C8C8C", "domainWidth": 1.5,
   "labelPadding": 16, "labelFontSize": 14, "labelFontWeight": "bold", "labelColor": "#000000",
   "labelOverlap": false, "labelFlush": false,
   "titleFontSize": 14, "titleFontWeight": "bold", "titleColor": "#000000", "titlePadding": 16}},
 "y": {"field": "y", "type": "quantitative", "scale": {"domain": [0, 200], "nice": false},
  "axis": {"title": "Axial Height (cm BFC)",
   "values": [0,4,8,12,16,20,24,28,32,36,40,44,48,52,56,60,64,68,72,76,80,84,88,92,96,100,104,108,112,116,120,124,128,132,136,140,144,148,152,156,160,164,168,172,176,180,184,188,192,196,200],
   "labelExpr": "datum.value % 20 === 0 ? datum.label : ''",
   "gridOpacity": {"condition": {"test": "datum.value % 20 === 0", "value": 1}, "value": 0},
   "gridColor": "#BDBDBD", "gridDash": [2, 2], "gridWidth": 1,
   "tickSize": -4, "tickColor": "#8C8C8C", "domainColor": "#8C8C8C", "domainWidth": 1.5,
   "labelPadding": 17, "labelFontSize": 14, "labelFontWeight": "bold", "labelColor": "#000000",
   "labelOverlap": false, "labelFlush": false,
   "titleFontSize": 14, "titleFontWeight": "bold", "titleColor": "#000000", "titlePadding": 17}},
 "color": {"field": "s", "type": "nominal",
  "scale": {"domain": ["ASTEC-Na ENEA", "ASTEC-Na JRC", "SIMMER-ENEA", "SIMMER-JRC", "SAS-SFR", "Exp. Data"],
            "range": ["#1F4E8F", "#FFC000", "#9B5FD0", "#1E8B22", "#CC0099", "#FF0000"]},
  "legend": {"orient": "none", "legendX": 0, "legendY": 0, "title": null, "fillColor": "white", "padding": 4,
   "labelFont": "Liberation Sans", "labelFontSize": 13, "labelFontWeight": "bold", "labelColor": "#000000",
   "symbolSize": 400, "rowPadding": 5.8, "labelOffset": 3, "symbolOffset": 13, "symbolLimit": 0,
   "symbolStrokeWidth": 0, "symbolOpacity": 1}}
},
"layer": [
 {"transform": [{"filter": "datum.s === 'ASTEC-Na JRC'"}],
  "mark": {"type": "line", "interpolate": "step-after", "strokeWidth": 5},
  "encoding": {"detail": {"field": "b"}}},
 {"transform": [{"filter": "datum.s === 'ASTEC-Na ENEA'"}],
  "mark": {"type": "line", "strokeWidth": 3, "point": {"filled": true, "shape": "square", "size": 30, "opacity": 1}},
  "encoding": {"detail": {"field": "b"}}},
 {"transform": [{"filter": "datum.s === 'SIMMER-ENEA'"}],
  "mark": {"type": "line", "strokeWidth": 2.5, "point": {"filled": true, "shape": "circle", "size": 36, "opacity": 1}},
  "encoding": {"detail": {"field": "b"}}},
 {"transform": [{"filter": "datum.s === 'SIMMER-JRC'"}],
  "mark": {"type": "line", "strokeWidth": 2, "point": {"filled": true, "shape": "triangle-up", "size": 28, "opacity": 1}},
  "encoding": {"detail": {"field": "b"}}},
 {"transform": [{"filter": "datum.s === 'SAS-SFR'"}],
  "mark": {"type": "line", "strokeWidth": 3.5, "interpolate": "monotone"},
  "encoding": {"detail": {"field": "b"}}},
 {"transform": [{"filter": "datum.s === 'Exp. Data'"}],
  "mark": {"type": "point", "filled": true, "size": 110, "opacity": 1}},
 {"transform": [{"filter": "datum.b === 'legendonly'"}],
  "mark": {"type": "point", "filled": true, "opacity": 1},
  "encoding": {"shape": {"field": "s", "type": "nominal",
   "scale": {"domain": ["ASTEC-Na ENEA", "ASTEC-Na JRC", "SIMMER-ENEA", "SIMMER-JRC", "SAS-SFR", "Exp. Data"],
    "range": [
     "M-1.3,-0.19H1.3V0.19H-1.3ZM-0.3,-0.3H0.3V0.3H-0.3Z",
     "M-1.3,-0.19H1.3V0.19H-1.3ZM-0.07,-0.42H0.07V0.42H-0.07Z",
     "M-1.3,-0.19H1.3V0.19H-1.3ZM-0.36,0A0.36,0.36 0 1 1 0.36,0A0.36,0.36 0 1 1 -0.36,0Z",
     "M-1.3,-0.19H1.3V0.19H-1.3ZM0,-0.4L0.36,0.26H-0.36Z",
     "M-1.3,-0.19H1.3V0.19H-1.3Z",
     "M-0.55,0A0.55,0.55 0 1 1 0.55,0A0.55,0.55 0 1 1 -0.55,0Z"]},
   "legend": {"orient": "none", "legendX": 0, "legendY": 0, "title": null, "fillColor": "white", "padding": 4,
    "labelFont": "Liberation Sans", "labelFontSize": 13, "labelFontWeight": "bold", "labelColor": "#000000",
    "symbolSize": 400, "rowPadding": 5.8, "labelOffset": 3, "symbolOffset": 13, "symbolLimit": 0,
    "symbolStrokeWidth": 0, "symbolOpacity": 1}}}}
]
}
